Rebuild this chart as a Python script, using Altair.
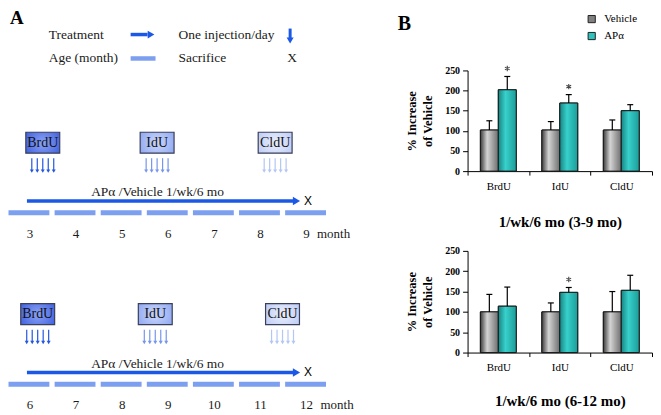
import altair as alt
import pandas as pd

# ---------------- data ----------------
MARKERS = ["BrdU", "IdU", "CldU"]
GROUPS = ["Vehicle", "APα"]

VEH_3_9 = [102, 102, 102]
VEH_3_9_ERR = [125, 123, 127]
APA_3_9 = [202, 169, 150]
APA_3_9_ERR = [235, 190, 165]
SIG_3_9 = [True, True, False]

VEH_6_12 = [100, 100, 100]
VEH_6_12_ERR = [143, 122, 150]
APA_6_12 = [114, 148, 153]
APA_6_12_ERR = [161, 160, 190]
SIG_6_12 = [False, True, False]

Y_TICKS = [0, 50, 100, 150, 200, 250]
TITLE_1 = "1/wk/6 mo (3-9 mo)"
TITLE_2 = "1/wk/6 mo (6-12 mo)"

MONTHS_1 = [3, 4, 5, 6, 7, 8, 9]
MONTHS_2 = [6, 7, 8, 9, 10, 11, 12]
PULSES = ["BrdU", "IdU", "CldU"]
PULSE_AT_1 = [0.30, 2.78, 5.34]   # months after start of timeline
PULSE_AT_2 = [0.19, 2.74, 5.50]
N_INJECTIONS = 5
TREAT_LABEL = "APα /Vehicle 1/wk/6 mo"
TREAT_END = 5.9
SACRIFICE_AT = 6.05
LEGEND_LEFT = ["Treatment", "Age  (month)"]
LEGEND_RIGHT = ["One injection/day", "Sacrifice"]

# ---------------- style ----------------
SERIF = "Liberation Serif"
SANS = "Liberation Sans"
BLUE = "#1b58e6"
DASH_BLUE = "#7d9ff0"
PULSE_ARROW_COLORS = ["#2457e0", "#7696ec", "#b3c6f5"]
BOX_GRADS = [
    ("#2c4fd8", "#8aa2f6"),
    ("#7f9bef", "#c9d6fb"),
    ("#b2c3f3", "#e9eefd"),
]
GRAY_GRAD = alt.LinearGradient(
    gradient="linear", x1=0, x2=1, y1=0, y2=0,
    stops=[alt.GradientStop(offset=0, color="#3c3c3c"),
           alt.GradientStop(offset=0.38, color="#d4d4d4"),
           alt.GradientStop(offset=1, color="#6e6e6e")])
TEAL_GRAD = alt.LinearGradient(
    gradient="linear", x1=0, x2=1, y1=0, y2=0,
    stops=[alt.GradientStop(offset=0, color="#168582"),
           alt.GradientStop(offset=0.4, color="#38d0cb"),
           alt.GradientStop(offset=1, color="#1c9d99")])
ASTERISK = "M0,-1L0,1M-0.87,-0.5L0.87,0.5M-0.87,0.5L0.87,-0.5"

# ---------------- panel B ----------------
def bar_frame(veh, veh_err, apa, apa_err, sig):
    rows = []
    for i, m in enumerate(MARKERS):
        rows.append(dict(marker=m, group="Vehicle", value=veh[i], err=veh_err[i], sig=False))
        rows.append(dict(marker=m, group="APα", value=apa[i], err=apa_err[i], sig=sig[i]))
    return pd.DataFrame(rows)


def bar_panel(df, title, title_pad, height, legend, with_label):
    x = alt.X("marker:N", sort=MARKERS,
              scale=alt.Scale(domain=MARKERS, paddingInner=0, paddingOuter=0),
              axis=alt.Axis(title=title, titleFont=SERIF, titleFontSize=15, titleFontWeight="bold",
                            titlePadding=title_pad, titleColor="black",
                            labelFont=SERIF, labelFontSize=11, labelFontWeight="normal", labelAngle=0,
                            labelPadding=5, labelColor="black", tickBand="extent", tickSize=4,
                            domainColor="black", tickColor="black"))
    y_scale = alt.Scale(domain=[0, 250], nice=False)
    y_axis = alt.Axis(values=Y_TICKS, title=["% Increase", "of Vehicle"], titleFont=SERIF,
                      titleFontSize=12.5, titleFontWeight="bold", titleLineHeight=16,
                      titlePadding=10, titleColor="black", labelOverlap=False,
                      labelFont=SERIF, labelFontSize=10, labelFontWeight="bold", labelPadding=3,
                      labelColor="black", tickSize=5, grid=False,
                      domainColor="black", tickColor="black")
    y_val = alt.Y("value:Q", scale=y_scale, axis=y_axis)
    y_err = alt.Y("err:Q", scale=y_scale, axis=y_axis)
    xo = alt.XOffset("group:N", sort=GROUPS,
                     scale=alt.Scale(domain=GROUPS, paddingInner=0, paddingOuter=0.714))
    base = alt.Chart(df)
    color_layer = base.mark_bar(stroke="#1a1a1a", strokeWidth=1).encode(
        x=x, y=y_val, xOffset=xo,
        color=alt.Color("group:N", sort=GROUPS,
                        scale=alt.Scale(domain=GROUPS, range=["#808080", "#2ec3bd"]),
                        legend=legend))
    veh = base.transform_filter(alt.datum.group == "Vehicle").mark_bar(
        fill=GRAY_GRAD, stroke="#1a1a1a", strokeWidth=1).encode(x=x, y=y_val, xOffset=xo)
    apa = base.transform_filter(alt.datum.group == "APα").mark_bar(
        fill=TEAL_GRAD, stroke="#1a1a1a", strokeWidth=1).encode(x=x, y=y_val, xOffset=xo)
    err_rule = base.mark_rule(color="black", strokeWidth=1.2).encode(
        x=x, xOffset=xo, y=y_val, y2="err:Q")
    err_cap = base.mark_tick(color="black", thickness=1.2, size=6, opacity=1).encode(
        x=x, xOffset=xo, y=y_err)
    stars = base.transform_filter(alt.datum.sig == True).mark_point(
        shape=ASTERISK, size=30, filled=False, stroke="#444444", strokeWidth=1.1, opacity=1,
        yOffset=-8).encode(x=x, xOffset=xo, y=y_err)
    layers = [color_layer, veh, apa, err_rule, err_cap, stars]
    if with_label:
        lab = alt.Chart(pd.DataFrame({"t": ["B"]})).mark_text(
            align="left", baseline="top", font=SERIF, fontSize=20, fontWeight="bold",
            color="black").encode(text="t:N", x=alt.value(-70), y=alt.value(-57))
        layers.append(lab)
    return alt.layer(*layers).properties(width=185, height=height)


legend_b = alt.Legend(orient="none", legendX=119, legendY=-57, title=None, symbolType="square",
                      symbolSize=52, symbolStrokeColor="#222", symbolStrokeWidth=1,
                      labelFont=SERIF, labelFontSize=11, labelColor="black", labelOffset=7,
                      rowPadding=4, padding=0)

b1 = bar_panel(bar_frame(VEH_3_9, VEH_3_9_ERR, APA_3_9, APA_3_9_ERR, SIG_3_9),
               TITLE_1, 24, 101, legend_b, True)
b2 = bar_panel(bar_frame(VEH_6_12, VEH_6_12_ERR, APA_6_12, APA_6_12_ERR, SIG_6_12),
               TITLE_2, 21, 102, None, False)

# ---------------- panel A (schematic) ----------------
# layout units: x = pixels from the panel's left edge, y = pixels from the figure top
T_OFF = 61          # height taken above the bar plots in panel B (rows share their plot tops)
WA = 369
HA = 400 - T_OFF
X0, STEP, HALF_DASH = 20.0, 46.25, 20.5
XS = alt.Scale(domain=[0, WA], nice=False, zero=False)
YS = alt.Scale(domain=[T_OFF, T_OFF + HA], reverse=True, nice=False, zero=False)


def mx(m_off):
    return X0 + STEP * m_off


def X(f="x"):
    return alt.X(f"{f}:Q", scale=XS, axis=None)


def Y(f="y"):
    return alt.Y(f"{f}:Q", scale=YS, axis=None)


def txt(df, **kw):
    style = dict(font=SERIF, fontSize=13.5, color="#1a1a1a", align="left", baseline="middle")
    style.update(kw)
    return alt.Chart(df).mark_text(**style).encode(x=X(), y=Y(), text="t:N")


pa_layers = []
# panel letter
pa_layers.append(txt(pd.DataFrame({"t": ["A"], "x": [1], "y": [-1]}),
                     fontSize=19, fontWeight="bold", baseline="top", color="black"))
# legend texts
pa_layers.append(txt(pd.DataFrame({"t": LEGEND_LEFT, "x": [40, 40], "y": [25, 49]})))
pa_layers.append(txt(pd.DataFrame({"t": LEGEND_RIGHT, "x": [170, 170], "y": [25, 49]})))
pa_layers.append(txt(pd.DataFrame({"t": ["X"], "x": [284], "y": [49]}), align="center"))
# legend symbols
pa_layers.append(alt.Chart(pd.DataFrame({"x": [122], "x2": [139], "y": [25]})).mark_rule(
    color=BLUE, strokeWidth=3.5).encode(x=X(), x2="x2:Q", y=Y()))
pa_layers.append(alt.Chart(pd.DataFrame({"x": [142.5], "y": [25]})).mark_point(
    shape="triangle-right", filled=True, size=60, color=BLUE, opacity=1).encode(x=X(), y=Y()))
pa_layers.append(alt.Chart(pd.DataFrame({"x": [122], "x2": [147], "y": [49]})).mark_rule(
    color=DASH_BLUE, strokeWidth=4.5).encode(x=X(), x2="x2:Q", y=Y()))
pa_layers.append(alt.Chart(pd.DataFrame({"x": [282], "y": [19], "y2": [29]})).mark_rule(
    color=BLUE, strokeWidth=3).encode(x=X(), y=Y(), y2="y2:Q"))
pa_layers.append(alt.Chart(pd.DataFrame({"x": [282], "y": [31]})).mark_point(
    shape="triangle-down", filled=True, size=50, color=BLUE, opacity=1).encode(x=X(), y=Y()))


def timeline(months, pulse_at, dy):
    out = []
    n = len(months)
    # age dashes
    dash = pd.DataFrame({"x": [mx(i) - HALF_DASH for i in range(n)],
                         "x2": [mx(i) + HALF_DASH for i in range(n)],
                         "y": [201.2 + dy] * n, "y2": [206.2 + dy] * n})
    out.append(alt.Chart(dash).mark_rect(color=DASH_BLUE).encode(
        x=X(), x2="x2:Q", y=Y(), y2="y2:Q"))
    # month labels
    lab = pd.DataFrame({"t": [str(m) for m in months],
                        "x": [mx(i) + 1 for i in range(n)],
                        "y": [225 + dy] * n})
    out.append(txt(lab, align="center", fontSize=13))
    out.append(txt(pd.DataFrame({"t": ["month"],
                                 "x": [mx(n - 1) + 8 + 3.5 * len(str(months[-1]))],
                                 "y": [225 + dy]}), fontSize=13))
    # treatment arrow
    out.append(alt.Chart(pd.DataFrame({"x": [mx(0) - 2], "x2": [mx(TREAT_END) - 6],
                                       "y": [192 + dy]})).mark_rule(
        color=BLUE, strokeWidth=3.5).encode(x=X(), x2="x2:Q", y=Y()))
    out.append(alt.Chart(pd.DataFrame({"x": [mx(TREAT_END) - 4.5], "y": [192 + dy]})).mark_point(
        shape="triangle-right", filled=True, size=70, color=BLUE, opacity=1).encode(x=X(), y=Y()))
    out.append(txt(pd.DataFrame({"t": ["X"], "x": [mx(SACRIFICE_AT)], "y": [192 + dy]}),
                   font=SANS, fontSize=12, align="center", color="black"))
    out.append(txt(pd.DataFrame({"t": [TREAT_LABEL], "x": [149], "y": [183 + dy]}),
                   align="center"))
    # labelling pulses
    for k, (p, at) in enumerate(zip(PULSES, pulse_at)):
        c = mx(at)
        edge, mid = BOX_GRADS[k]
        grad = alt.RadialGradient(gradient="radial", x1=0.5, y1=0.5, r1=0, x2=0.5, y2=0.5, r2=0.75,
                                  stops=[alt.GradientStop(offset=0, color=mid),
                                         alt.GradientStop(offset=1, color=edge)])
        box = pd.DataFrame({"x": [c - 17], "x2": [c + 17], "y": [123 + dy], "y2": [144 + dy]})
        out.append(alt.Chart(box).mark_rect(fill=grad, stroke="#3a3f5a", strokeWidth=1.2).encode(
            x=X(), x2="x2:Q", y=Y(), y2="y2:Q"))
        out.append(txt(pd.DataFrame({"t": [p], "x": [c], "y": [133.5 + dy]}),
                       fontSize=14, align="center", color="#111"))
        xs_ = [c + (j - (N_INJECTIONS - 1) / 2) * 5.5 for j in range(N_INJECTIONS)]
        arr = pd.DataFrame({"x": xs_, "y": [149 + dy] * N_INJECTIONS,
                            "y2": [161 + dy] * N_INJECTIONS, "yh": [162 + dy] * N_INJECTIONS})
        out.append(alt.Chart(arr).mark_rule(color=PULSE_ARROW_COLORS[k], strokeWidth=1.2).encode(
            x=X(), y=Y(), y2="y2:Q"))
        out.append(alt.Chart(arr).mark_point(shape="triangle-down", filled=True, size=16,
                                             color=PULSE_ARROW_COLORS[k], opacity=1).encode(
            x=X(), y=Y("yh")))
    return out


pa_layers += timeline(MONTHS_1, PULSE_AT_1, 0)
pa_layers += timeline(MONTHS_2, PULSE_AT_2, 172)

panel_a = alt.layer(*pa_layers).properties(width=WA, height=HA)

right = alt.vconcat(b1, b2, spacing=16).resolve_scale(color="independent")
chart = (alt.hconcat(panel_a, right, spacing=21)
         .resolve_scale(color="independent")
         .properties(padding=0)
         .configure(font=SERIF)
         .configure_view(strokeWidth=0, stroke="transparent")
         .configure_axis(grid=False))

chart.save("out.html", embed_options={"renderer": "svg", "actions": False})
